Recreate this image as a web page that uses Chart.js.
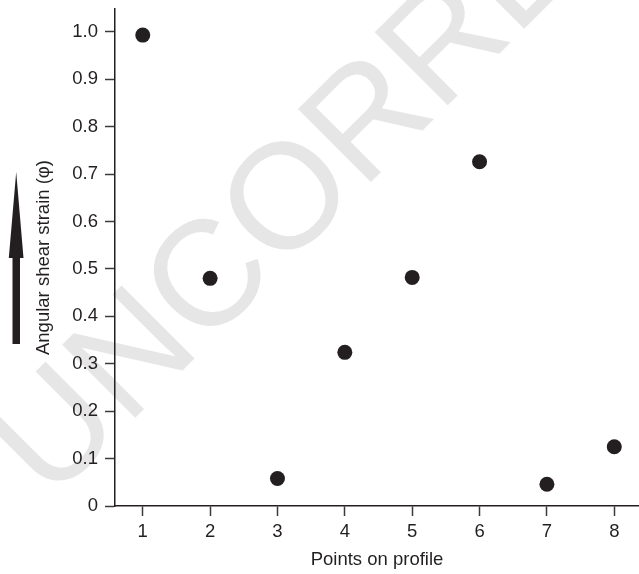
<!DOCTYPE html>
<html>
<head>
<meta charset="utf-8">
<script src="https://cdn.jsdelivr.net/npm/chart.js@4/dist/chart.umd.min.js"></script>
<style>
  html, body { margin: 0; padding: 0; background: #fff; }
  canvas { display: block; }
</style>
</head>
<body>
<canvas id="shearChart" width="639" height="574"></canvas>
<script>
// points along the profile and the strain
const profilePoints = [1, 2, 3, 4, 5, 6, 7, 8];
const shearStrain = [0.993, 0.480, 0.058, 0.324, 0.482, 0.726, 0.046, 0.125];
const strainTicks = [0, 0.1, 0.2, 0.3, 0.4, 0.5, 0.6, 0.7, 0.8, 0.9, 1.0];

const ink = '#231f20';
Chart.defaults.font.family = '"Liberation Sans", Arial, Helvetica, sans-serif';

// faint "UNCORRECTED" proof stamp behind the plot
const watermark = {
  id: 'watermark',
  beforeDraw(chart) {
    const ctx = chart.ctx;
    ctx.save();
    ctx.translate(50, 503);
    ctx.rotate(-Math.PI / 4);
    ctx.font = '150px "Liberation Sans", Arial, sans-serif';
    ctx.fillStyle = '#e6e6e6';
    ctx.fillText('UNCORRECTED', 0, 0);
    ctx.restore();
  }
};

// the big "increasing" arrow next to the y title
const upArrow = {
  id: 'upArrow',
  afterDraw(chart) {
    const ctx = chart.ctx;
    ctx.save();
    ctx.fillStyle = ink;
    ctx.fillRect(12.5, 250, 7.5, 94);
    ctx.beginPath();
    ctx.moveTo(16.2, 172);
    ctx.lineTo(23.5, 258);
    ctx.lineTo(8.8, 258);
    ctx.closePath();
    ctx.fill();
    ctx.restore();
  }
};

new Chart(document.getElementById('shearChart'), {
  type: 'scatter',
  data: {
    datasets: [{
      data: profilePoints.map((p, i) => ({ x: p, y: shearStrain[i] })),
      pointRadius: 7.5,
      pointBackgroundColor: ink,
      pointBorderWidth: 0
    }]
  },
  options: {
    responsive: false,
    animation: false,
    layout: { autoPadding: false, padding: { top: 9, right: 0, bottom: 0, left: 0 } },
    plugins: { legend: { display: false }, tooltip: { enabled: false } },
    scales: {
      x: {
        type: 'linear',
        min: 0.588,
        max: 8.367,
        afterBuildTicks: s => { s.ticks = profilePoints.map(v => ({ value: v })); },
        afterFit: s => { s.height = 68; s.paddingLeft = 0; s.paddingRight = 0; },
        grid: { drawOnChartArea: false, tickLength: 10, tickColor: '#3a3a3a', tickWidth: 1.5 },
        border: { color: ink, width: 1.5 },
        ticks: { padding: 5, color: ink, font: { size: 18.5 }, callback: v => String(v) },
        title: { display: true, text: 'Points on profile', color: ink, font: { size: 18.5 }, padding: { top: 6, bottom: 3 } }
      },
      y: {
        min: 0,
        max: 1.048,
        afterBuildTicks: s => { s.ticks = strainTicks.map(v => ({ value: v })); },
        afterFit: s => { s.width = 115; s.paddingTop = 0; s.paddingBottom = 0; },
        grid: { drawOnChartArea: false, tickLength: 10, tickColor: '#3a3a3a', tickWidth: 1.5 },
        border: { color: ink, width: 1.5 },
        ticks: { padding: 7, color: ink, font: { size: 18.5 }, callback: v => v === 0 ? '0' : v.toFixed(1) },
        title: { display: true, text: 'Angular shear strain (φ)', color: ink, font: { size: 18.5 }, padding: { top: 33, bottom: 4 } }
      }
    }
  },
  plugins: [watermark, upArrow]
});
</script>
</body>
</html>
